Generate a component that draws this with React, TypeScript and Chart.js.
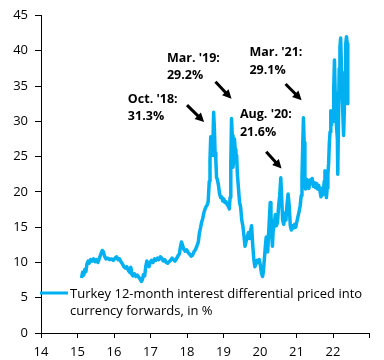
import React, { useEffect, useRef } from "react";
import { Chart, registerables } from "chart.js";

Chart.register(...registerables);

// Decimal years (14 = 2014) and the interest differential, in %
const dates: number[] = [
  15.11, 15.14, 15.17, 15.2, 15.23, 15.26, 15.29, 15.32, 15.36, 15.4,
  15.44, 15.48, 15.52, 15.56, 15.6, 15.64, 15.68, 15.71, 15.74, 15.78,
  15.83, 15.88, 15.93, 15.98, 16.03, 16.07, 16.11, 16.15, 16.19, 16.23,
  16.27, 16.31, 16.35, 16.39, 16.43, 16.46, 16.49, 16.52, 16.56, 16.6,
  16.64, 16.68, 16.72, 16.75, 16.78, 16.81, 16.84, 16.87, 16.9, 16.93,
  16.96, 16.99, 17.03, 17.07, 17.11, 17.15, 17.19, 17.23, 17.27, 17.31,
  17.35, 17.39, 17.43, 17.47, 17.51, 17.55, 17.59, 17.63, 17.67, 17.71,
  17.75, 17.79, 17.82, 17.85, 17.88, 17.91, 17.95, 17.99, 18.03, 18.07,
  18.11, 18.15, 18.19, 18.23, 18.27, 18.31, 18.34, 18.37, 18.4, 18.43,
  18.46, 18.49, 18.52, 18.55, 18.58, 18.61, 18.63, 18.65, 18.67, 18.69,
  18.71, 18.73, 18.75, 18.77, 18.79, 18.81, 18.83, 18.86, 18.89, 18.92,
  18.95, 18.98, 19.01, 19.04, 19.07, 19.1, 19.13, 19.16, 19.18, 19.2,
  19.22, 19.24, 19.26, 19.28, 19.3, 19.32, 19.34, 19.36, 19.38, 19.41,
  19.44, 19.47, 19.5, 19.53, 19.56, 19.59, 19.62, 19.65, 19.68, 19.71,
  19.74, 19.77, 19.8, 19.83, 19.86, 19.89, 19.92, 19.95, 19.98, 20.01,
  20.04, 20.07, 20.09, 20.12, 20.15, 20.17, 20.19, 20.21, 20.23, 20.26,
  20.28, 20.3, 20.32, 20.34, 20.36, 20.39, 20.42, 20.45, 20.48, 20.51,
  20.54, 20.57, 20.6, 20.62, 20.65, 20.68, 20.71, 20.74, 20.77, 20.8,
  20.83, 20.86, 20.89, 20.92, 20.95, 20.98, 21.01, 21.04, 21.07, 21.1,
  21.13, 21.15, 21.17, 21.19, 21.21, 21.23, 21.25, 21.28, 21.31, 21.34,
  21.37, 21.4, 21.43, 21.46, 21.49, 21.52, 21.55, 21.58, 21.61, 21.64,
  21.67, 21.7, 21.73, 21.76, 21.78, 21.8, 21.82, 21.84, 21.86, 21.88,
  21.9, 21.92, 21.94, 21.96, 21.98, 22.0, 22.02, 22.04, 22.06, 22.08,
  22.1, 22.12, 22.13, 22.15, 22.17, 22.19, 22.21, 22.23, 22.25, 22.27,
  22.29, 22.31, 22.33, 22.35, 22.37, 22.39, 22.4, 22.41,
];

const values: number[] = [
  7.8, 8.6, 8.2, 9.0, 8.7, 9.8, 10.2, 9.9, 10.4, 10.2,
  10.5, 10.1, 10.4, 10.0, 10.6, 11.2, 11.7, 11.5, 10.9, 10.5,
  10.6, 10.4, 10.5, 10.3, 10.6, 10.8, 10.4, 10.5, 10.1, 9.8,
  9.4, 9.2, 9.4, 8.9, 8.6, 9.3, 8.3, 8.1, 8.4, 8.0,
  8.2, 7.9, 7.6, 7.3, 7.6, 8.3, 8.1, 9.4, 10.2, 9.6,
  9.4, 10.0, 10.3, 10.0, 10.5, 10.3, 10.6, 10.4, 10.8, 10.6,
  10.2, 10.4, 10.0, 9.9, 10.1, 10.3, 10.6, 10.4, 10.2, 10.5,
  10.9, 11.2, 12.2, 12.9, 12.4, 11.9, 11.6, 11.8, 11.4, 11.2,
  10.9, 11.0, 11.5, 11.8, 12.3, 12.9, 14.2, 14.9, 15.7, 16.2,
  17.0, 17.5, 17.9, 18.1, 18.6, 21.5, 24.5, 27.8, 26.5, 25.2,
  27.0, 31.3, 29.0, 25.5, 24.5, 22.0, 21.8, 21.0, 19.8, 19.2,
  19.3, 18.7, 19.0, 18.5, 18.6, 18.2, 18.0, 17.6, 19.2, 24.0,
  30.4, 28.0, 23.5, 24.5, 27.5, 26.0, 24.5, 25.2, 22.5, 20.5,
  18.5, 17.8, 16.0, 15.2, 13.8, 12.3, 13.0, 13.5, 14.2, 13.4,
  14.5, 15.2, 12.5, 10.5, 9.4, 9.8, 10.3, 10.0, 10.4, 9.6,
  8.5, 8.0, 8.6, 10.5, 12.5, 13.6, 12.6, 11.5, 13.5, 16.5,
  18.5, 17.0, 14.0, 12.3, 14.5, 15.3, 16.8, 15.2, 15.7, 18.0,
  19.5, 22.0, 18.5, 16.0, 15.4, 17.0, 16.0, 18.2, 19.7, 18.0,
  15.2, 14.6, 15.2, 14.9, 15.4, 15.0, 15.8, 16.5, 17.2, 18.0,
  19.5, 22.0, 26.5, 30.5, 27.0, 21.5, 20.4, 21.8, 21.0, 20.5,
  21.7, 21.2, 21.9, 20.8, 21.3, 20.6, 21.2, 20.4, 20.9, 20.2,
  19.3, 20.5, 19.6, 21.5, 23.0, 21.0, 19.2, 20.5, 22.5, 24.0,
  27.0, 28.5, 31.5, 29.5, 31.0, 30.0, 34.5, 38.7, 34.0, 30.5,
  29.0, 27.5, 22.5, 30.0, 37.5, 40.5, 41.8, 38.0, 34.0, 31.0,
  28.0, 31.5, 37.0, 41.0, 42.0, 41.0, 36.0, 32.5,
];

const xMin = 14;
const xMax = 23;
const xHiddenLabels = [23];
const yMin = 0;
const yMax = 45;
const yStep = 5;

const seriesName = "Turkey 12-month interest differential priced into currency forwards, in %";
const legendLines = ["Turkey 12-month interest differential priced into", "currency forwards, in %"];

// Callouts: text lines, text anchor (data coords: left x, first baseline y), arrow (data coords)
const calloutTexts: string[][] = [
  ["Oct. '18:", "31.3%"],
  ["Mar. '19:", "29.2%"],
  ["Aug. '20:", "21.6%"],
  ["Mar. '21:", "29.1%"],
];
const calloutAnchors: number[][] = [
  [16.38, 32.6],
  [17.45, 38.43],
  [19.45, 30.41],
  [19.71, 39.24],
];
const calloutArrows: number[][] = [
  [18.0, 32.3, 18.47, 29.9],
  [18.78, 35.6, 19.22, 33.2],
  [20.17, 25.7, 20.59, 23.3],
  [20.7, 35.3, 21.14, 33.0],
];

const LINE_COLOR = "#00B0F0";
const FONT = "'Open Sans', 'Liberation Sans', sans-serif";

const overlayPlugin = {
  id: "overlay",
  afterDraw(chart: any) {
    const ctx = chart.ctx as CanvasRenderingContext2D;
    const xs = chart.scales.x;
    const ys = chart.scales.y;
    const ca = chart.chartArea;
    ctx.save();
    // arrows
    ctx.strokeStyle = "#000";
    ctx.fillStyle = "#000";
    calloutArrows.forEach(([x1, y1, x2, y2]) => {
      const px1 = xs.getPixelForValue(x1);
      const py1 = ys.getPixelForValue(y1);
      const px2 = xs.getPixelForValue(x2);
      const py2 = ys.getPixelForValue(y2);
      const ang = Math.atan2(py2 - py1, px2 - px1);
      const headLen = 9;
      const headW = 4.5;
      const bx = px2 - headLen * Math.cos(ang);
      const by = py2 - headLen * Math.sin(ang);
      ctx.lineWidth = 3;
      ctx.lineCap = "butt";
      ctx.beginPath();
      ctx.moveTo(px1, py1);
      ctx.lineTo(bx + Math.cos(ang), by + Math.sin(ang));
      ctx.stroke();
      ctx.beginPath();
      ctx.moveTo(px2, py2);
      ctx.lineTo(bx + headW * Math.sin(ang), by - headW * Math.cos(ang));
      ctx.lineTo(bx - headW * Math.sin(ang), by + headW * Math.cos(ang));
      ctx.closePath();
      ctx.fill();
    });
    // callout text
    ctx.font = `bold 12.5px ${FONT}`;
    ctx.textBaseline = "alphabetic";
    ctx.textAlign = "left";
    calloutTexts.forEach((lines, i) => {
      const px = xs.getPixelForValue(calloutAnchors[i][0]);
      const py = ys.getPixelForValue(calloutAnchors[i][1]);
      lines.forEach((t, j) => ctx.fillText(t, px, py + j * 17.5));
    });
    // legend
    ctx.strokeStyle = LINE_COLOR;
    ctx.lineWidth = 3;
    ctx.beginPath();
    ctx.moveTo(ca.left - 1, ca.bottom - 40);
    ctx.lineTo(ca.left + 27, ca.bottom - 40);
    ctx.stroke();
    ctx.fillStyle = "#000";
    ctx.font = `13px ${FONT}`;
    legendLines.forEach((t, j) => ctx.fillText(t, ca.left + 29, ca.bottom - 35.5 + j * 17));
    ctx.restore();
  },
};

export default function App() {
  const ref = useRef<HTMLCanvasElement | null>(null);
  useEffect(() => {
    if (!ref.current) return;
    const data = dates.map((x, i) => ({ x, y: values[i] }));
    const chart = new Chart(ref.current, {
      type: "line",
      data: {
        datasets: [
          {
            label: seriesName,
            data,
            borderColor: LINE_COLOR,
            backgroundColor: LINE_COLOR,
            borderWidth: 3.5,
            pointRadius: 0,
            tension: 0,
            borderJoinStyle: "round",
          },
        ],
      },
      options: {
        responsive: false,
        animation: false,
        layout: { padding: { top: 15.5, right: 14.5, left: 0, bottom: 0 } },
        plugins: { legend: { display: false }, tooltip: { enabled: false } },
        scales: {
          x: {
            type: "linear",
            min: xMin,
            max: xMax,
            afterFit: (s: any) => {
              s.height = 27;
            },
            afterBuildTicks: (s: any) => {
              const t = [];
              for (let v = xMin; v <= xMax; v++) t.push({ value: v });
              s.ticks = t;
            },
            ticks: {
              autoSkip: false,
              maxRotation: 0,
              padding: 6,
              color: "#000",
              font: { family: FONT, size: 13 },
              callback: (v: any) => (xHiddenLabels.includes(Number(v)) ? "" : String(v)),
            },
            grid: { drawOnChartArea: false, drawTicks: true, tickLength: 5, color: "#000" },
            border: { display: true, color: "#000", width: 1 },
          },
          y: {
            min: yMin,
            max: yMax,
            afterFit: (s: any) => {
              s.width = 41;
            },
            ticks: {
              stepSize: yStep,
              padding: 7,
              color: "#000",
              font: { family: FONT, size: 13 },
            },
            grid: { drawOnChartArea: false, drawTicks: true, tickLength: 6, color: "#000" },
            border: { display: true, color: "#000", width: 1 },
          },
        },
      },
      plugins: [overlayPlugin],
    } as any);
    return () => chart.destroy();
  }, []);
  return (
    <div style={{ position: "fixed", left: 0, top: 0, width: 384, height: 360, background: "#fff" }}>
      <canvas ref={ref} width={384} height={360} />
    </div>
  );
}
